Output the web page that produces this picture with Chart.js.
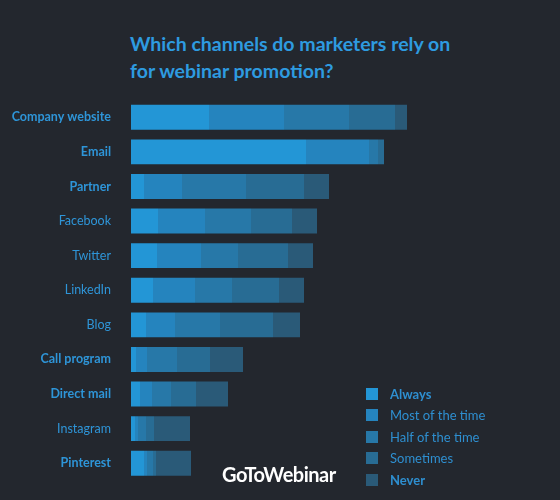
<!DOCTYPE html>
<html><head><meta charset="utf-8">
<script src="https://cdn.jsdelivr.net/npm/chart.js@4"></script>
<style>
body{margin:0;background:#23272e;width:560px;height:500px;overflow:hidden;font-family:Lato,sans-serif;position:relative}
#t{position:absolute;left:130px;top:30px;color:#2e9be0;font-weight:bold;font-size:19.5px;line-height:27px}
#lg{position:absolute;left:366px;top:383px;font-size:13px;color:#2e8fd0}
#lg div{height:21.5px;display:flex;align-items:center}
#lg span{display:inline-block;width:12px;height:12px;margin-right:12px}
#brand{position:absolute;left:222px;top:462px;color:#fff;font-weight:bold;font-size:20px;letter-spacing:-0.5px}
canvas{position:absolute;left:0;top:0}
</style></head><body>
<div id="t">Which channels do marketers rely on<br>for webinar promotion?</div>
<canvas id="c" width="560" height="500"></canvas>
<div id="lg"></div>
<div id="brand">GoToWebinar</div>
<script>
const categories=["Company website","Email","Partner","Facebook","Twitter","LinkedIn","Blog","Call program","Direct mail","Instagram","Pinterest"];
const boldCats=[true,true,true,false,false,false,false,true,true,false,true];
const seriesNames=["Always","Most of the time","Half of the time","Sometimes","Never"];
const always=[78,175,13,27,26,22,15,5,9,4,13];
const mostOfTime=[75,63,38,47,44,42,29,11,12,3,3];
const halfOfTime=[65,9,64,46,37,37,45,30,19,8,6];
const sometimes=[46,6,58,41,50,47,53,33,25,8,3];
const never=[12,0,25,25,25,25,27,33,32,36,35];
const colors=["#2396d6","#2584be","#2778a8","#286c94","#2a5a78"];
const vals=[always,mostOfTime,halfOfTime,sometimes,never];
const lg=document.getElementById('lg');
seriesNames.forEach((n,i)=>{const d=document.createElement('div');d.innerHTML=`<span style="background:${colors[i]}"></span>`+n;if(i==0||i==4)d.style.fontWeight='bold';lg.appendChild(d);});
new Chart(document.getElementById('c'),{type:'bar',
data:{labels:categories,datasets:vals.map((v,i)=>({label:seriesNames[i],data:v,backgroundColor:colors[i],borderWidth:0,barPercentage:0.72,categoryPercentage:1}))},
options:{indexAxis:'y',responsive:false,animation:false,
layout:{padding:{left:0,right:129,top:100,bottom:0}},
plugins:{legend:{display:false},tooltip:{enabled:false}},
scales:{x:{stacked:true,min:0,max:300,display:false},
y:{stacked:true,grid:{display:false},border:{display:false},
afterFit:s=>{s.width=131;},
ticks:{color:"#2e95d8",padding:12,font:c=>({family:'Lato',size:12.5,weight:boldCats[c.index]?'bold':'normal'})}}}}});
</script></body></html>
